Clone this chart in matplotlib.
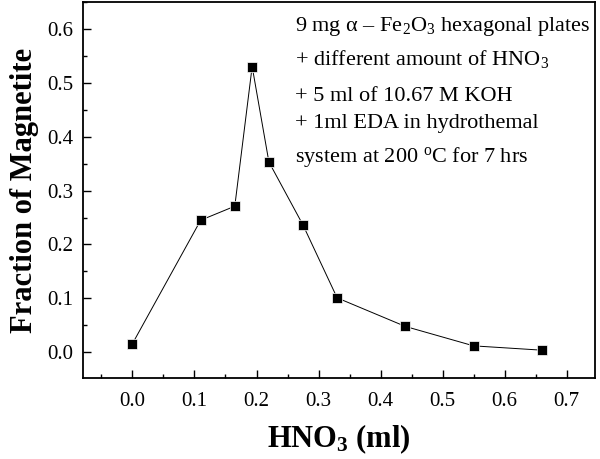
import matplotlib
matplotlib.use('Agg')
from matplotlib import pyplot as plt
from matplotlib.ticker import MultipleLocator, FormatStrFormatter

# HNO3 volume (ml) vs fraction of magnetite
hno3_ml = [0.0, 0.11, 0.165, 0.193, 0.22, 0.275, 0.33, 0.44, 0.55, 0.66]
magnetite = [0.016, 0.245, 0.271, 0.530, 0.353, 0.236, 0.101, 0.048, 0.012, 0.004]

note_lines = [
    r'9 mg α – Fe$_2$O$_3$ hexagonal plates',
    r'+ different amount of HNO$_3$',
    r'+ 5 ml of 10.67 M KOH',
    r'+ 1ml EDA in hydrothemal',
    r'system at 200 $^{\mathrm{o}}$C for 7 hrs',
]
note_y = [0.595, 0.532, 0.467, 0.416, 0.353]

plt.rcParams['font.family'] = ['Liberation Serif', 'DejaVu Serif']
plt.rcParams['mathtext.fontset'] = 'custom'
plt.rcParams['mathtext.rm'] = 'Liberation Serif'
plt.rcParams['mathtext.it'] = 'Liberation Serif:italic'
plt.rcParams['mathtext.bf'] = 'Liberation Serif:bold'

fig = plt.figure(figsize=(6, 4.59), dpi=100)
ax = fig.add_axes([0.138, 0.176, 0.853, 0.82])

ax.plot(hno3_ml, magnetite, color='black', lw=0.7, marker='s',
        markersize=6.5, markerfacecolor='black', markeredgecolor='white',
        markeredgewidth=0.5)

ax.set_xlim(-0.08, 0.745)
ax.set_ylim(-0.048, 0.65)
ax.xaxis.set_major_locator(MultipleLocator(0.1))
ax.xaxis.set_minor_locator(MultipleLocator(0.05))
ax.yaxis.set_major_locator(MultipleLocator(0.1))
ax.yaxis.set_minor_locator(MultipleLocator(0.05))
ax.xaxis.set_major_formatter(FormatStrFormatter('%.1f'))
ax.yaxis.set_major_formatter(FormatStrFormatter('%.1f'))
ax.tick_params(which='both', direction='in', top=False, right=False,
               labelsize=15, width=1)
ax.tick_params(which='major', length=6)
ax.tick_params(which='minor', length=3)
ax.tick_params(axis='x', which='major', pad=10)
ax.tick_params(axis='y', which='major', pad=7)
for sp in ax.spines.values():
    sp.set_linewidth(1.3)

ax.set_xlabel(r'HNO$_\mathbf{3}$ (ml)', fontsize=22, fontweight='bold',
              labelpad=8)
ax.set_ylabel('Fraction of Magnetite', fontsize=22, fontweight='bold',
              labelpad=6)

for i, line in enumerate(note_lines):
    ax.text(0.262, note_y[i], line, fontsize=16, va='baseline', ha='left')

fig.savefig('out.png', dpi=100)
